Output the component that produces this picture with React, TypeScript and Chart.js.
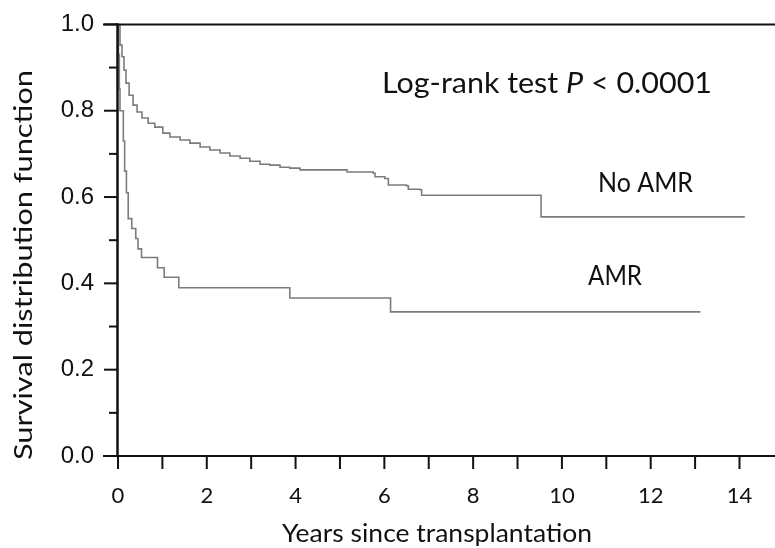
import React, { useEffect, useRef } from 'react';
import { Chart, registerables } from 'chart.js';

Chart.register(...registerables);

// Kaplan-Meier estimates (time in years, survival after each step)
const noAmrTimes = [0, 0.045, 0.09, 0.135, 0.18, 0.25, 0.34, 0.43, 0.54, 0.68, 0.83, 1.01, 1.17, 1.4, 1.62, 1.85, 2.07, 2.3, 2.52, 2.75, 2.97, 3.2, 3.42, 3.65, 3.87, 4.1, 5.16, 5.75, 5.79, 6.01, 6.09, 6.5, 6.54, 6.8, 6.84, 9.53, 14.12];
const noAmrSurvival = [1.0, 0.952, 0.925, 0.894, 0.864, 0.836, 0.813, 0.797, 0.783, 0.771, 0.762, 0.748, 0.739, 0.732, 0.725, 0.716, 0.709, 0.702, 0.695, 0.69, 0.683, 0.676, 0.674, 0.669, 0.667, 0.663, 0.658, 0.655, 0.647, 0.643, 0.628, 0.626, 0.618, 0.617, 0.604, 0.554, 0.554];

const amrTimes = [0, 0.01, 0.03, 0.045, 0.12, 0.15, 0.19, 0.23, 0.31, 0.4, 0.45, 0.53, 0.89, 1.04, 1.37, 3.87, 6.14, 13.12];
const amrSurvival = [1.0, 0.93, 0.85, 0.8, 0.73, 0.66, 0.61, 0.55, 0.527, 0.504, 0.48, 0.46, 0.436, 0.414, 0.39, 0.366, 0.334, 0.334];

const xTickValues = [0, 1, 2, 3, 4, 5, 6, 7, 8, 9, 10, 11, 12, 13, 14];
const xLabelValues = [0, 2, 4, 6, 8, 10, 12, 14];
const yMajorTicks = [0, 0.2, 0.4, 0.6, 0.8, 1.0];
const yMinorTicks = [0.1, 0.3, 0.5, 0.7, 0.9];

const xTitle = 'Years since transplantation';
const yTitle = 'Survival distribution function';
const testLabelA = 'Log-rank test ';
const testLabelP = 'P';
const testLabelB = ' < 0.0001';
const noAmrLabel = 'No AMR';
const amrLabel = 'AMR';

const TEXT_FONT = 'Lato, "Open Sans", sans-serif';

function drawFitted(ctx: CanvasRenderingContext2D, text: string, x: number, y: number, width: number) {
  const w = ctx.measureText(text).width;
  ctx.save();
  ctx.translate(x, y);
  ctx.scale(width / w, 1);
  ctx.fillText(text, 0, 0);
  ctx.restore();
}

const decorPlugin = {
  id: 'decor',
  afterDatasetsDraw(chart: any) {
    const ctx: CanvasRenderingContext2D = chart.ctx;
    const { left, right, top, bottom } = chart.chartArea;
    const xs = chart.scales.x;
    const ys = chart.scales.y;
    ctx.save();
    ctx.strokeStyle = '#111';
    ctx.lineCap = 'butt';
    const seg = (x1: number, y1: number, x2: number, y2: number, w: number) => {
      ctx.lineWidth = w;
      ctx.beginPath();
      ctx.moveTo(x1, y1);
      ctx.lineTo(x2, y2);
      ctx.stroke();
    };
    // frame lines
    seg(left - 15, top, right, top, 2);
    seg(left - 15, bottom, right, bottom, 2);
    seg(left - 0.5, top - 1, left - 0.5, bottom + 1, 2.5);
    // y ticks
    yMajorTicks.forEach((v) => {
      const y = ys.getPixelForValue(v);
      seg(left - 14, y, left, y, 2);
    });
    yMinorTicks.forEach((v) => {
      const y = ys.getPixelForValue(v);
      seg(left - 9, y, left, y, 2);
    });
    // x ticks
    xTickValues.forEach((v) => {
      const x = xs.getPixelForValue(v);
      seg(x, bottom, x, bottom + 13, 2);
    });

    // texts
    ctx.fillStyle = '#111';
    ctx.textBaseline = 'alphabetic';
    ctx.textAlign = 'left';

    // log-rank annotation
    ctx.font = `29px ${TEXT_FONT}`;
    const wA = ctx.measureText(testLabelA).width;
    const wB = ctx.measureText(testLabelB).width;
    ctx.font = `italic 29px ${TEXT_FONT}`;
    const wP = ctx.measureText(testLabelP).width;
    const total = wA + wP + wB;
    const f = 330 / total;
    ctx.save();
    ctx.translate(382, 93);
    ctx.scale(f, 1);
    ctx.font = `29px ${TEXT_FONT}`;
    ctx.fillText(testLabelA, 0, 0);
    ctx.font = `italic 29px ${TEXT_FONT}`;
    ctx.fillText(testLabelP, wA, 0);
    ctx.font = `29px ${TEXT_FONT}`;
    ctx.fillText(testLabelB, wA + wP, 0);
    ctx.restore();

    ctx.font = `26px ${TEXT_FONT}`;
    drawFitted(ctx, noAmrLabel, 598, 192, 95);
    drawFitted(ctx, amrLabel, 588, 285, 54);

    ctx.font = `25px ${TEXT_FONT}`;
    drawFitted(ctx, xTitle, 282, 542, 310);

    ctx.save();
    ctx.translate(32, 460);
    ctx.rotate(-Math.PI / 2);
    ctx.font = `25px ${TEXT_FONT}`;
    drawFitted(ctx, yTitle, 0, 0, 390);
    ctx.restore();

    ctx.restore();
  },
};

export default function App() {
  const canvasRef = useRef<HTMLCanvasElement | null>(null);

  useEffect(() => {
    const canvas = canvasRef.current;
    if (!canvas) return;
    const lineStyle = {
      borderColor: '#7c7c7c',
      borderWidth: 1.6,
      pointRadius: 0,
      fill: false,
      stepped: 'before' as const,
    };
    const chart = new Chart(canvas, {
      type: 'line',
      data: {
        datasets: [
          {
            label: noAmrLabel,
            data: noAmrTimes.map((t, i) => ({ x: t, y: noAmrSurvival[i] })),
            ...lineStyle,
          },
          {
            label: amrLabel,
            data: amrTimes.map((t, i) => ({ x: t, y: amrSurvival[i] })),
            ...lineStyle,
          },
        ],
      },
      options: {
        animation: false,
        responsive: false,
        maintainAspectRatio: false,
        devicePixelRatio: 1,
        layout: { padding: { top: 24, right: 0, left: 0, bottom: 0 } },
        plugins: {
          legend: { display: false },
          tooltip: { enabled: false },
        },
        scales: {
          x: {
            type: 'linear',
            min: 0,
            max: 14.8,
            afterBuildTicks: (s: any) => {
              s.ticks = xTickValues.map((v) => ({ value: v }));
            },
            afterFit: (s: any) => {
              s.height = 92;
            },
            grid: {
              display: true,
              drawOnChartArea: false,
              drawTicks: true,
              tickLength: 13,
              color: 'rgba(0,0,0,0)',
            },
            border: { display: false },
            ticks: {
              autoSkip: false,
              maxRotation: 0,
              padding: 14,
              color: '#111',
              font: { family: TEXT_FONT, size: 22 },
              callback: (v: any) => (xLabelValues.includes(Number(v)) ? String(v) : ''),
            },
          },
          y: {
            type: 'linear',
            min: 0,
            max: 1,
            afterBuildTicks: (s: any) => {
              s.ticks = yMajorTicks.map((v) => ({ value: v }));
            },
            afterFit: (s: any) => {
              s.width = 118;
            },
            grid: {
              display: true,
              drawOnChartArea: false,
              drawTicks: true,
              tickLength: 14,
              color: 'rgba(0,0,0,0)',
            },
            border: { display: false },
            ticks: {
              padding: 10,
              color: '#111',
              font: { family: '"Liberation Sans", Arial, sans-serif', size: 24 },
              callback: (v: any) => Number(v).toFixed(1),
            },
          },
        },
      },
      plugins: [decorPlugin],
    });
    return () => chart.destroy();
  }, []);

  return (
    <div style={{ position: 'absolute', left: 0, top: 0, width: 775, height: 548, background: '#fff' }}>
      <canvas ref={canvasRef} width={775} height={548} style={{ display: 'block', width: 775, height: 548 }} />
    </div>
  );
}
